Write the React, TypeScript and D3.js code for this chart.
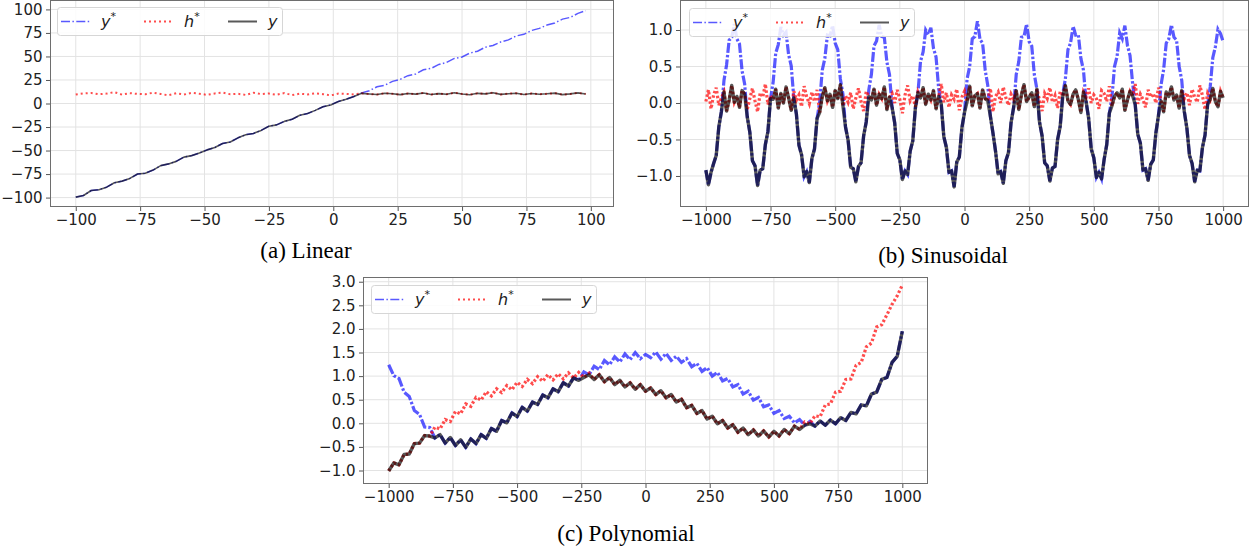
import React, { useEffect, useRef } from "react";
import * as d3 from "d3";

// (a) Linear: x runs -100..98 in steps of 3
const linearX = d3.range(-100, 100, 3);
const linearYStar = [
  -99.5, -97.8, -92.5, -91.6, -88.9, -84.2, -82.5, -79.6, -75.0, -74.1,
  -70.8, -66.0, -64.2, -61.5, -57.0, -55.4, -52.6, -49.3, -46.8, -42.5,
  -40.9, -36.5, -33.2, -31.8, -28.6, -24.1, -22.7, -19.0, -16.8, -12.5,
  -10.7, -7.3, -3.4, -1.5, 2.2, 4.6, 7.5, 11.3, 13.6, 17.8,
  19.4, 23.5, 25.7, 29.6, 31.4, 35.8, 37.3, 41.5, 43.6, 47.9,
  49.4, 53.6, 55.5, 59.8, 61.7, 65.4, 67.6, 71.8, 73.5, 77.6,
  79.8, 83.4, 85.6, 89.7, 91.5, 95.8, 98.6,
];
const linearHStar = [
  9.6, 10.8, 11.2, 9.9, 10.5, 12.1, 9.4, 11.0, 10.2, 9.8,
  11.5, 10.1, 8.7, 10.9, 9.5, 11.3, 10.4, 9.2, 10.7, 11.6,
  9.8, 10.3, 9.1, 11.4, 10.0, 10.6, 9.3, 11.1, 8.9, 10.4,
  9.7, 10.9, 9.9, 8.6, 10.5, 10.2, 9.6, 10.8, 10.1, 9.5,
  10.9, 10.3, 9.4, 10.7, 10.0, 11.2, 9.6, 10.5, 9.9, 11.4,
  10.1, 9.3, 10.8, 10.2, 11.5, 9.7, 10.4, 10.9, 9.5, 10.6,
  9.8, 10.3, 11.0, 9.4, 10.2, 11.3, 10.1,
];
const linearY = [
  -99.5, -97.8, -92.5, -91.6, -88.9, -84.2, -82.5, -79.6, -75.0, -74.1,
  -70.8, -66.0, -64.2, -61.5, -57.0, -55.4, -52.6, -49.3, -46.8, -42.5,
  -40.9, -36.5, -33.2, -31.8, -28.6, -24.1, -22.7, -19.0, -16.8, -12.5,
  -10.7, -7.3, -3.4, -1.5, 2.2, 4.6, 7.5, 10.8, 10.1, 9.5,
  10.9, 10.3, 9.4, 10.7, 10.0, 11.2, 9.6, 10.5, 9.9, 11.4,
  10.1, 9.3, 10.8, 10.2, 11.5, 9.7, 10.4, 10.9, 9.5, 10.6,
  9.8, 10.3, 11.0, 9.4, 10.2, 11.3, 10.1,
];

// (b) Sinusoidal: x runs -1000..1000 in steps of 10
const sinX = d3.range(-1000, 1001, 10);
const sinYStar = [
  -0.92, -1.12, -0.95, -0.83, -0.72, -0.33, -0.12, 0.31, 0.52, 0.86,
  0.90, 1.08, 0.88, 0.81, 0.44, 0.26, -0.19, -0.40, -0.79, -0.86,
  -1.13, -0.92, -0.90, -0.57, -0.39, 0.06, 0.28, 0.68, 0.80, 1.04,
  0.93, 0.97, 0.66, 0.51, 0.07, -0.15, -0.58, -0.71, -1.01, -0.94,
  -1.09, -0.76, -0.63, -0.21, 0.01, 0.45, 0.61, 0.93, 0.92, 1.06,
  0.82, 0.73, 0.33, 0.12, -0.33, -0.51, -0.88, -0.90, -1.08, -0.87,
  -0.82, -0.45, -0.26, 0.18, 0.39, 0.78, 0.85, 1.07, 0.91, 0.90,
  0.56, 0.39, -0.06, -0.27, -0.69, -0.78, -1.05, -0.93, -0.98, -0.66,
  -0.52, -0.07, 0.14, 0.57, 0.70, 1.00, 0.94, 1.03, 0.75, 0.63,
  0.20, -0.01, -0.46, -0.61, -0.95, -0.93, -1.15, -0.81, -0.74, -0.34,
  -0.13, 0.33, 0.50, 0.88, 0.91, 1.12, 0.87, 0.82, 0.45, 0.24,
  -0.18, -0.41, -0.66, -0.97, -0.94, -1.10, -0.79, -0.68, -0.27, -0.06,
  0.39, 0.57, 0.90, 0.91, 1.08, 0.84, 0.78, 0.39, 0.19, -0.26,
  -0.45, -0.82, -0.86, -1.07, -0.89, -0.87, -0.50, -0.32, 0.13, 0.33,
  0.73, 0.82, 1.05, 0.93, 0.94, 0.61, 0.45, 0.02, -0.21, -0.63,
  -0.75, -1.02, -0.95, -1.04, -0.77, -0.57, -0.14, 0.08, 0.50, 0.64,
  0.96, 0.88, 1.06, 0.79, 0.65, 0.27, -0.02, -0.43, -0.55, -0.92,
  -0.90, -1.06, -0.84, -0.78, -0.41, -0.17, 0.25, 0.46, 0.82, 0.88,
  1.07, 0.90, 0.86, 0.50, 0.31, -0.12, -0.35, -0.72, -0.83, -1.08,
  -0.92, -0.93, -0.61, -0.44, -0.02, 0.22, 0.62, 0.77, 1.01, 0.95,
  0.84,
];
const sinHStar = [
  0.02, 0.18, -0.08, 0.11, 0.21, -0.03, 0.07, 0.15, -0.11, 0.04,
  0.24, 0.01, 0.09, -0.06, 0.17, 0.12, -0.09, 0.06, 0.20, 0.03,
  -0.12, 0.14, 0.08, 0.26, -0.02, 0.10, 0.05, 0.19, -0.07, 0.13,
  0.00, 0.22, 0.07, -0.10, 0.16, 0.04, 0.11, -0.05, 0.23, 0.08,
  -0.01, 0.15, 0.02, 0.18, -0.13, 0.09, 0.21, 0.03, 0.12, -0.06,
  0.17, 0.06, 0.25, -0.04, 0.10, 0.01, 0.14, -0.08, 0.07, 0.20,
  0.02, -0.11, 0.16, 0.09, 0.04, 0.19, -0.03, 0.12, 0.06, 0.22,
  -0.09, 0.08, 0.13, 0.00, 0.18, 0.05, -0.14, 0.11, 0.24, 0.03,
  0.10, -0.05, 0.15, 0.07, 0.21, -0.02, 0.12, 0.04, 0.17, -0.08,
  0.09, 0.26, 0.01, 0.14, -0.06, 0.11, 0.05, 0.19, -0.10, 0.08,
  0.16, 0.02, 0.23, -0.04, 0.10, 0.13, -0.07, 0.18, 0.06, 0.03,
  0.20, -0.12, 0.09, 0.15, 0.00, 0.22, 0.07, -0.03, 0.12, 0.05,
  0.17, -0.09, 0.11, 0.25, 0.02, 0.08, 0.14, -0.05, 0.19, 0.04,
  -0.11, 0.13, 0.06, 0.21, 0.01, 0.10, -0.07, 0.16, 0.09, 0.24,
  0.03, -0.02, 0.12, 0.18, 0.05, -0.13, 0.15, 0.08, 0.20, 0.00,
  0.11, 0.06, -0.08, 0.17, 0.13, 0.02, 0.23, -0.04, 0.09, 0.14,
  0.07, 0.19, -0.10, 0.04, 0.16, 0.10, 0.26, -0.01, 0.12, 0.05,
  -0.06, 0.18, 0.08, 0.13, 0.00, 0.21, 0.03, -0.12, 0.15, 0.09,
  0.22, 0.04, 0.11, -0.07, 0.17, 0.06, 0.14, -0.03, 0.19, 0.08,
  0.01, 0.24, 0.10, -0.09, 0.13, 0.05, 0.20, 0.02, -0.05, 0.16,
  0.07,
];
const sinY = [
  -0.92, -1.12, -0.95, -0.83, -0.72, -0.33, -0.12, 0.15, -0.11, 0.04,
  0.24, 0.01, 0.09, -0.06, 0.17, 0.12, -0.19, -0.40, -0.79, -0.86,
  -1.13, -0.92, -0.90, -0.57, -0.39, 0.06, 0.05, 0.19, -0.07, 0.13,
  0.00, 0.22, 0.07, -0.10, 0.07, -0.15, -0.58, -0.71, -1.01, -0.94,
  -1.09, -0.76, -0.63, -0.21, -0.13, 0.09, 0.21, 0.03, 0.12, -0.06,
  0.17, 0.06, 0.25, -0.04, -0.33, -0.51, -0.88, -0.90, -1.08, -0.87,
  -0.82, -0.45, -0.26, 0.09, 0.04, 0.19, -0.03, 0.12, 0.06, 0.22,
  -0.09, 0.08, -0.06, -0.27, -0.69, -0.78, -1.05, -0.93, -0.98, -0.66,
  -0.52, -0.07, 0.14, 0.07, 0.21, -0.02, 0.12, 0.04, 0.17, -0.08,
  0.09, -0.01, -0.46, -0.61, -0.95, -0.93, -1.15, -0.81, -0.74, -0.34,
  -0.13, 0.02, 0.23, -0.04, 0.10, 0.13, -0.07, 0.18, 0.06, 0.03,
  -0.18, -0.41, -0.66, -0.97, -0.94, -1.10, -0.79, -0.68, -0.27, -0.06,
  0.17, -0.09, 0.11, 0.25, 0.02, 0.08, 0.14, -0.05, 0.19, -0.26,
  -0.45, -0.82, -0.86, -1.07, -0.89, -0.87, -0.50, -0.32, 0.09, 0.24,
  0.03, -0.02, 0.12, 0.18, 0.05, -0.13, 0.15, 0.02, -0.21, -0.63,
  -0.75, -1.02, -0.95, -1.04, -0.77, -0.57, -0.14, -0.04, 0.09, 0.14,
  0.07, 0.19, -0.10, 0.04, 0.16, 0.10, -0.02, -0.43, -0.55, -0.92,
  -0.90, -1.06, -0.84, -0.78, -0.41, -0.17, 0.03, -0.12, 0.15, 0.09,
  0.22, 0.04, 0.11, -0.07, 0.17, -0.12, -0.35, -0.72, -0.83, -1.08,
  -0.92, -0.93, -0.61, -0.44, -0.02, 0.05, 0.20, 0.02, -0.05, 0.16,
  0.07,
];

// (c) Polynomial: x runs -1000..1000 in steps of 20
const polyX = d3.range(-1000, 1001, 20);
const polyYStar = [
  1.24, 1.01, 0.95, 0.66, 0.57, 0.27, 0.19, -0.08, -0.09, -0.31,
  -0.24, -0.42, -0.30, -0.47, -0.35, -0.51, -0.33, -0.43, -0.24, -0.32,
  -0.11, -0.17, 0.06, 0.01, 0.22, 0.14, 0.34, 0.26, 0.45, 0.40,
  0.60, 0.54, 0.73, 0.67, 0.86, 0.79, 0.97, 0.91, 1.09, 1.03,
  1.21, 1.14, 1.33, 1.24, 1.41, 1.30, 1.47, 1.35, 1.50, 1.37,
  1.46, 1.39, 1.51, 1.36, 1.48, 1.33, 1.42, 1.29, 1.37, 1.20,
  1.27, 1.10, 1.18, 1.00, 1.08, 0.90, 0.95, 0.77, 0.82, 0.62,
  0.68, 0.49, 0.55, 0.35, 0.39, 0.21, 0.27, 0.10, 0.15, 0.01,
  0.08, -0.04, 0.04, -0.06, 0.05, -0.04, 0.07, -0.01, 0.12, 0.06,
  0.23, 0.20, 0.39, 0.37, 0.62, 0.66, 0.93, 0.97, 1.29, 1.42,
  1.95,
];
const polyHStar = [
  -1.01, -0.84, -0.88, -0.66, -0.65, -0.43, -0.42, -0.26, -0.27, -0.08,
  -0.12, 0.08, 0.04, 0.25, 0.20, 0.41, 0.36, 0.55, 0.49, 0.67,
  0.58, 0.73, 0.65, 0.80, 0.71, 0.87, 0.78, 0.93, 0.84, 0.99,
  0.89, 1.03, 0.92, 1.05, 0.94, 1.07, 0.96, 1.08, 0.97, 1.06,
  0.93, 1.03, 0.88, 0.97, 0.82, 0.91, 0.77, 0.86, 0.72, 0.82,
  0.68, 0.75, 0.61, 0.69, 0.54, 0.61, 0.45, 0.51, 0.33, 0.38,
  0.21, 0.27, 0.09, 0.15, -0.01, 0.06, -0.10, -0.03, -0.19, -0.10,
  -0.24, -0.14, -0.27, -0.16, -0.29, -0.17, -0.27, -0.13, -0.22, -0.06,
  -0.13, 0.03, -0.01, 0.16, 0.14, 0.39, 0.41, 0.66, 0.68, 0.93,
  0.94, 1.23, 1.29, 1.62, 1.70, 2.04, 2.09, 2.30, 2.52, 2.70,
  2.93,
];
const polyY = [
  -1.01, -0.84, -0.88, -0.66, -0.65, -0.43, -0.42, -0.26, -0.27, -0.31,
  -0.24, -0.42, -0.30, -0.47, -0.35, -0.51, -0.33, -0.43, -0.24, -0.32,
  -0.11, -0.17, 0.06, 0.01, 0.22, 0.14, 0.34, 0.26, 0.45, 0.40,
  0.60, 0.54, 0.73, 0.67, 0.86, 0.79, 0.96, 0.91, 0.97, 1.03,
  0.93, 1.03, 0.88, 0.97, 0.82, 0.91, 0.77, 0.86, 0.72, 0.82,
  0.68, 0.75, 0.61, 0.69, 0.54, 0.61, 0.45, 0.51, 0.33, 0.38,
  0.21, 0.27, 0.09, 0.15, -0.01, 0.06, -0.10, -0.03, -0.19, -0.10,
  -0.24, -0.14, -0.27, -0.16, -0.29, -0.17, -0.27, -0.13, -0.22, -0.06,
  -0.13, -0.04, -0.01, -0.06, 0.05, -0.04, 0.07, -0.01, 0.12, 0.06,
  0.23, 0.20, 0.39, 0.37, 0.62, 0.66, 0.93, 0.97, 1.29, 1.42,
  1.95,
];

const linearTicks = [-100, -75, -50, -25, 0, 25, 50, 75, 100];
const wideXTicks = [-1000, -750, -500, -250, 0, 250, 500, 750, 1000];
const sinYTicks = [-1, -0.5, 0, 0.5, 1];
const polyYTicks = [-1, -0.5, 0, 0.5, 1, 1.5, 2, 2.5, 3];

const thin = { yStarW: 1.5, yStarDash: "9,2.4,1.5,2.4", hStarW: 2, hStarDash: "2,3", yW: 1.6 };
const thick = { yStarW: 3.2, yStarDash: "10,2,2.5,2", hStarW: 3.2, hStarDash: "2.5,2.2", yW: 3.4 };

const panels = [
  {
    caption: "(a) Linear", capX: 306, capY: 258,
    left: 50, right: 614, top: 0, bottom: 207,
    xDomain: [-110, 109], yDomain: [-110, 110],
    xTicks: linearTicks, yTicks: linearTicks, yFmt: d3.format("d"),
    xs: linearX, yStar: linearYStar, hStar: linearHStar, y: linearY,
    legX: 57, legY: 7, st: thin,
  },
  {
    caption: "(b) Sinusoidal", capX: 943, capY: 263,
    left: 680, right: 1249, top: 0, bottom: 207,
    xDomain: [-1100, 1100], yDomain: [-1.425, 1.411],
    xTicks: wideXTicks, yTicks: sinYTicks, yFmt: d3.format(".1f"),
    xs: sinX, yStar: sinYStar, hStar: sinHStar, y: sinY,
    legX: 689, legY: 8, st: thick,
  },
  {
    caption: "(c) Polynomial", capX: 626, capY: 541,
    left: 363, right: 928, top: 277, bottom: 484,
    xDomain: [-1100, 1100], yDomain: [-1.286, 3.1],
    xTicks: wideXTicks, yTicks: polyYTicks, yFmt: d3.format(".1f"),
    xs: polyX, yStar: polyYStar, hStar: polyHStar, y: polyY,
    legX: 371, legY: 285, st: thick,
  },
];

const BLUE = "rgba(0,0,255,0.65)";
const RED = "rgba(255,0,0,0.7)";
const BLACK = "rgba(0,0,0,0.65)";

export default function App() {
  const ref = useRef<SVGSVGElement>(null);

  useEffect(() => {
    const svg = d3.select(ref.current);
    svg.selectAll("*").remove();

    panels.forEach((p, pi) => {
      const x = d3.scaleLinear().domain(p.xDomain).range([p.left, p.right]);
      const y = d3.scaleLinear().domain(p.yDomain).range([p.bottom, p.top]);
      const g = svg.append("g");

      // grid
      g.selectAll(".gx").data(p.xTicks).enter().append("line")
        .attr("x1", d => x(d)).attr("x2", d => x(d))
        .attr("y1", p.top).attr("y2", p.bottom)
        .attr("stroke", "#e3e3e3").attr("stroke-width", 1);
      g.selectAll(".gy").data(p.yTicks).enter().append("line")
        .attr("x1", p.left).attr("x2", p.right)
        .attr("y1", d => y(d)).attr("y2", d => y(d))
        .attr("stroke", "#e3e3e3").attr("stroke-width", 1);

      const clipId = "clip" + pi;
      g.append("clipPath").attr("id", clipId).append("rect")
        .attr("x", p.left).attr("y", p.top)
        .attr("width", p.right - p.left).attr("height", p.bottom - p.top);

      const line = d3.line<number>()
        .x((d, i) => x(p.xs[i]))
        .y(d => y(d));

      const plot = g.append("g").attr("clip-path", `url(#${clipId})`);
      plot.append("path").attr("d", line(p.yStar)).attr("fill", "none")
        .attr("stroke", BLUE).attr("stroke-width", p.st.yStarW)
        .attr("stroke-dasharray", p.st.yStarDash);
      plot.append("path").attr("d", line(p.hStar)).attr("fill", "none")
        .attr("stroke", RED).attr("stroke-width", p.st.hStarW)
        .attr("stroke-dasharray", p.st.hStarDash);
      plot.append("path").attr("d", line(p.y)).attr("fill", "none")
        .attr("stroke", BLACK).attr("stroke-width", p.st.yW)
        .attr("stroke-linejoin", "round");

      // frame
      g.append("rect")
        .attr("x", p.left + 0.5).attr("y", p.top + 0.5)
        .attr("width", p.right - p.left - 1).attr("height", p.bottom - p.top - 1)
        .attr("fill", "none").attr("stroke", "#6e6e6e").attr("stroke-width", 1);

      // axes
      const ax = g.append("g").attr("transform", `translate(0,${p.bottom})`)
        .call(d3.axisBottom(x).tickValues(p.xTicks).tickFormat(d3.format("d"))
          .tickSize(4).tickPadding(3.5).tickSizeOuter(0));
      const ay = g.append("g").attr("transform", `translate(${p.left},0)`)
        .call(d3.axisLeft(y).tickValues(p.yTicks).tickFormat(p.yFmt)
          .tickSize(4).tickPadding(3.5).tickSizeOuter(0));
      [ax, ay].forEach(a => {
        a.select(".domain").remove();
        a.selectAll("line").attr("stroke", "#555");
        a.selectAll("text").attr("fill", "#222")
          .style("font-family", "DejaVu Sans, sans-serif").style("font-size", "15px");
      });

      // legend
      const lg = g.append("g").attr("transform", `translate(${p.legX},${p.legY})`);
      lg.append("rect").attr("x", 0.5).attr("y", 0.5).attr("width", 225).attr("height", 28)
        .attr("rx", 3).attr("fill", "rgba(255,255,255,0.85)")
        .attr("stroke", "#d6d6d6").attr("stroke-width", 1);
      const entries = [
        { base: "y", sup: "*", color: BLUE, dash: "9,2.4,1.5,2.4", w: 1.5, at: 4 },
        { base: "h", sup: "*", color: RED, dash: "2,3", w: 2, at: 87 },
        { base: "y", sup: "", color: BLACK, dash: null, w: 2, at: 171 },
      ];
      entries.forEach(e => {
        const l = lg.append("line").attr("x1", e.at).attr("x2", e.at + 29)
          .attr("y1", 14.5).attr("y2", 14.5)
          .attr("stroke", e.color).attr("stroke-width", e.w);
        if (e.dash) l.attr("stroke-dasharray", e.dash);
        const t = lg.append("text").attr("x", e.at + 40).attr("y", 20)
          .style("font-family", "DejaVu Sans, sans-serif").style("font-style", "italic")
          .style("font-size", "16px").attr("fill", "#222").text(e.base);
        if (e.sup) t.append("tspan").attr("dy", -7).style("font-size", "11px")
          .style("font-style", "normal").text(e.sup);
      });

      // caption
      svg.append("text").attr("x", p.capX).attr("y", p.capY)
        .attr("text-anchor", "middle")
        .style("font-family", "Liberation Serif, serif").style("font-size", "23px")
        .attr("fill", "#000").text(p.caption);
    });
  }, []);

  return (
    <svg ref={ref} width={1253} height={550}
      style={{ position: "absolute", left: 0, top: 0, background: "#fff" }} />
  );
}
